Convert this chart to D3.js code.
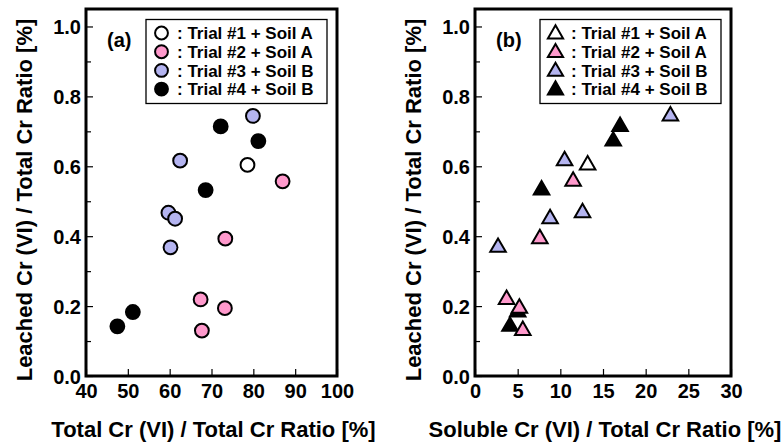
<!DOCTYPE html>
<html>
<head>
<meta charset="utf-8">
<script src="https://cdn.jsdelivr.net/npm/d3@7"></script>
<style>
  body { margin: 0; background: #fff; }
</style>
</head>
<body>
<div id="chart"></div>
<script>
// legend labels, colours
const trials = ["Trial #1 + Soil A", "Trial #2 + Soil A", "Trial #3 + Soil B", "Trial #4 + Soil B"];
const fills = ["#ffffff", "#ff99cc", "#b4b4f0", "#000000"];

// leached Cr(VI) / total Cr ratio (y, shared by both panels)
const leached1 = [0.604];
const leached2 = [0.557, 0.393, 0.219, 0.194, 0.130];
const leached3 = [0.744, 0.616, 0.467, 0.450, 0.368];
const leached4 = [0.714, 0.672, 0.532, 0.183, 0.142];

// panel (a): total Cr(VI) / total Cr ratio [%]
const totalA1 = [78.6];
const totalA2 = [87.0, 73.3, 67.4, 73.2, 67.7];
const totalA3 = [79.9, 62.5, 59.7, 61.3, 60.2];
const totalA4 = [72.2, 81.2, 68.6, 51.2, 47.5];

// panel (b): soluble Cr(VI) / total Cr ratio [%]
const solubleB1 = [13.2];
const solubleB2 = [11.5, 7.6, 3.7, 5.2, 5.6];
const solubleB3 = [22.9, 10.5, 12.6, 8.8, 2.7];
const solubleB4 = [17.0, 16.2, 7.8, 5.0, 4.1];

const yTicks = [0, 0.2, 0.4, 0.6, 0.8, 1.0];
const yMinor = [0.1, 0.3, 0.5, 0.7, 0.9];
const xTicksA = [40, 50, 60, 70, 80, 90, 100];
const xTicksB = [0, 5, 10, 15, 20, 25, 30];

const FONT = "'Liberation Sans', Arial, Helvetica, sans-serif";
const W = 782, H = 442;
const svg = d3.select("#chart").append("svg").attr("width", W).attr("height", H);

function pairs(xs, ys) { return xs.map((x, i) => [x, ys[i]]); }
function bold(sel, size) {
  return sel.attr("font-family", FONT).attr("font-weight", "bold")
    .attr("font-size", size).attr("fill", "#000");
}

function panel(opt) {
  const x = d3.scaleLinear().domain(opt.xDomain).range([opt.left, opt.right]);
  const y = d3.scaleLinear().domain([0, 1.05]).range([376, 9]);
  const g = svg.append("g");

  // y axis, ticks inside
  const ya = g.append("g").attr("transform", `translate(${opt.left},0)`)
    .call(d3.axisLeft(y).tickValues(yTicks).tickFormat(d3.format(".1f")).tickSize(-7).tickPadding(5));
  ya.select(".domain").remove();
  bold(ya.selectAll("text"), 20).attr("dy", "0.36em");
  ya.selectAll("line").attr("stroke-width", 1.2);
  g.append("g").attr("transform", `translate(${opt.left},0)`)
    .call(d3.axisLeft(y).tickValues(yMinor).tickFormat("").tickSize(-5))
    .call(s => s.select(".domain").remove())
    .selectAll("line").attr("stroke-width", 1.2);

  // x axis, ticks inside
  const xa = g.append("g").attr("transform", "translate(0,376)")
    .call(d3.axisBottom(x).tickValues(opt.xTicks).tickSize(-7).tickPadding(8));
  xa.select(".domain").remove();
  bold(xa.selectAll("text"), 20);
  xa.selectAll("line").attr("stroke-width", 1.2);

  // frame
  g.append("rect").attr("x", opt.left).attr("y", 9)
    .attr("width", opt.right - opt.left).attr("height", 376 - 9)
    .attr("fill", "none").attr("stroke", "#000").attr("stroke-width", 3);

  // axis titles
  bold(g.append("text"), 22).attr("x", (opt.left + opt.right) / 2 + 2).attr("y", 437)
    .attr("text-anchor", "middle").text(opt.xTitle);
  bold(g.append("text"), 22).attr("transform", `translate(${opt.left - 54},200) rotate(-90)`)
    .attr("text-anchor", "middle")
    .text("Leached Cr (VI) / Total Cr Ratio [%]");

  // panel tag
  bold(g.append("text"), 20).attr("x", opt.left + 21).attr("y", 47).text(opt.tag);

  // points, drawn in the given order
  const isCircle = opt.shape === d3.symbolCircle;
  const sym = d3.symbol().type(opt.shape).size(isCircle ? 150 : 105);
  opt.order.forEach(i => {
    g.append("g").selectAll("path").data(opt.series[i]).join("path")
      .attr("transform", d => `translate(${x(d[0])},${y(d[1])})`)
      .attr("d", sym)
      .attr("fill", fills[i]).attr("stroke", "#000").attr("stroke-width", 2);
  });

  // legend
  const lg = g.append("g");
  lg.append("rect").attr("x", opt.legX).attr("y", 19.5)
    .attr("width", opt.legW).attr("height", 84)
    .attr("fill", "#fff").attr("stroke", "#000").attr("stroke-width", 1.3);
  trials.forEach((t, i) => {
    const cy = 33 + i * 18.7;
    lg.append("path").attr("transform", `translate(${opt.legX + 15.5},${cy + (isCircle ? 0 : 1)})`)
      .attr("d", d3.symbol().type(opt.shape).size(isCircle ? 130 : 100)())
      .attr("fill", fills[i]).attr("stroke", "#000").attr("stroke-width", 2);
    bold(lg.append("text"), 17).attr("x", opt.legX + 31).attr("y", cy).attr("dy", "0.36em")
      .text(": " + t);
  });
}

panel({
  left: 86, right: 337, xDomain: [40, 100], xTicks: xTicksA, tag: "(a)",
  xTitle: "Total Cr (VI) / Total Cr Ratio [%]", shape: d3.symbolCircle,
  legX: 146, legW: 181, order: [0, 1, 2, 3],
  series: [pairs(totalA1, leached1), pairs(totalA2, leached2), pairs(totalA3, leached3), pairs(totalA4, leached4)]
});

panel({
  left: 475, right: 731, xDomain: [0, 30], xTicks: xTicksB, tag: "(b)",
  xTitle: "Soluble Cr (VI) / Total Cr Ratio [%]", shape: d3.symbolTriangle,
  legX: 540, legW: 181, order: [3, 0, 1, 2],
  series: [pairs(solubleB1, leached1), pairs(solubleB2, leached2), pairs(solubleB3, leached3), pairs(solubleB4, leached4)]
});
</script>
</body>
</html>
